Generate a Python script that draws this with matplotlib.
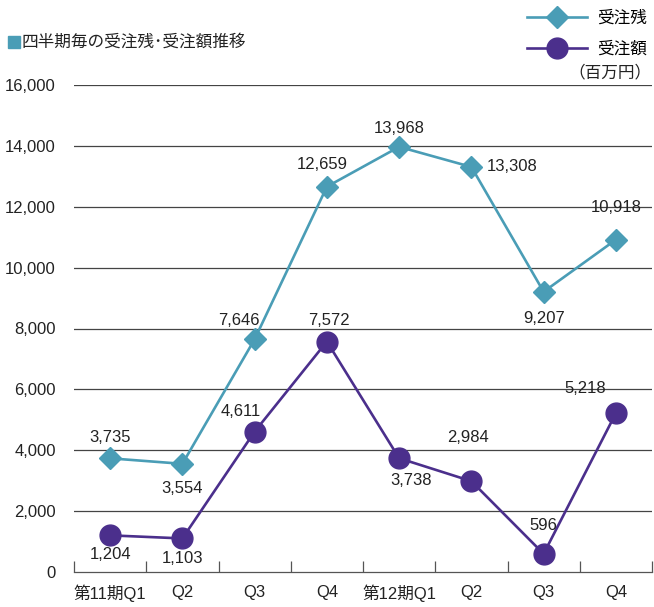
import matplotlib
matplotlib.use("Agg")
import matplotlib.pyplot as plt
from matplotlib.patches import Rectangle
import numpy as np

plt.rcParams['font.family'] = ['Liberation Sans', 'Noto Sans CJK JP', 'DejaVu Sans']

# quarterly order backlog / orders received (million yen)
quarters = ["第11期Q1", "Q2", "Q3", "Q4", "第12期Q1", "Q2", "Q3", "Q4"]
backlog = [3735, 3554, 7646, 12659, 13968, 13308, 9207, 10918]
orders = [1204, 1103, 4611, 7572, 3738, 2984, 596, 5218]

# label offsets in pixels (dx, dy, ha)
backlog_off = [(0, 21, "center"), (0, -25, "center"), (-16, 19, "center"),
               (-5, 22, "center"), (0, 18, "center"), (15, 0, "left"),
               (0, -27, "center"), (0, 32, "center")]
orders_off = [(0, -19, "center"), (0, -20, "center"), (-14, 20, "center"),
              (2, 21, "center"), (12, -22, "center"), (-3, 44, "center"),
              (0, 28, "center"), (-31, 25, "center")]

teal = "#4a9db6"
purple = "#4b2f8c"
fs = 12

fig = plt.figure(figsize=(6.54, 6.07), dpi=100)
ax = fig.add_axes([74 / 654, 1 - 572 / 607, 578 / 654, 487 / 607])

x = np.arange(len(quarters))
l1, = ax.plot(x, backlog, color=teal, lw=1.9, marker="D", ms=11,
              mec=teal, mfc=teal, label="受注残", zorder=3)
l2, = ax.plot(x, orders, color=purple, lw=1.9, marker="o", ms=15,
              mec=purple, mfc=purple, label="受注額", zorder=3)

for xi, v, (dx, dy, ha) in zip(x, backlog, backlog_off):
    ax.annotate(f"{v:,}", (xi, v), xytext=(dx, dy), textcoords="offset pixels",
                ha=ha, va="center", fontsize=fs, color="#222222")
for xi, v, (dx, dy, ha) in zip(x, orders, orders_off):
    ax.annotate(f"{v:,}", (xi, v), xytext=(dx, dy), textcoords="offset pixels",
                ha=ha, va="center", fontsize=fs, color="#222222")

ax.set_xlim(-0.5, len(quarters) - 0.5)
ax.set_ylim(0, 16000)
yticks = np.arange(0, 16001, 2000)
ax.set_yticks(yticks)
ax.set_yticklabels([f"{t:,}" for t in yticks], fontsize=fs, color="#222222")
for t in yticks[1:]:
    ax.axhline(t, color="#444444", lw=0.9, zorder=1)

# tick marks between quarters, names under each quarter
ax.set_xticks(np.arange(-0.5, len(quarters)), minor=False)
ax.set_xticklabels([])
ax.set_xticks(x, minor=True)
ax.set_xticklabels(quarters, minor=True, fontsize=fs, color="#222222")
ax.tick_params(axis="x", which="major", direction="in", length=8,
               color="#555555", width=0.9)
ax.tick_params(axis="x", which="minor", length=0, pad=9)
ax.tick_params(axis="y", length=0, pad=13)

for s in ["top", "right", "left"]:
    ax.spines[s].set_visible(False)
ax.spines["bottom"].set_color("#555555")
ax.spines["bottom"].set_linewidth(0.9)

# title with small square bullet
fig.patches.append(Rectangle((8 / 654, 1 - 48 / 607), 12 / 654, 12 / 607,
                             transform=fig.transFigure, color=teal))
fig.text(22 / 654, 1 - 42 / 607, "四半期毎の受注残･受注額推移",
         fontsize=fs, va="center", color="#222222")

fig.legend(handles=[l1, l2], loc="upper right", bbox_to_anchor=(1.012, 1.008),
           frameon=False, fontsize=fs, handlelength=3.6, labelspacing=0.95,
           handletextpad=0.6)
fig.text(652 / 654, 1 - 72 / 607, "（百万円）", ha="right", va="center",
         fontsize=fs, color="#222222")

fig.savefig("out.png", dpi=100)
